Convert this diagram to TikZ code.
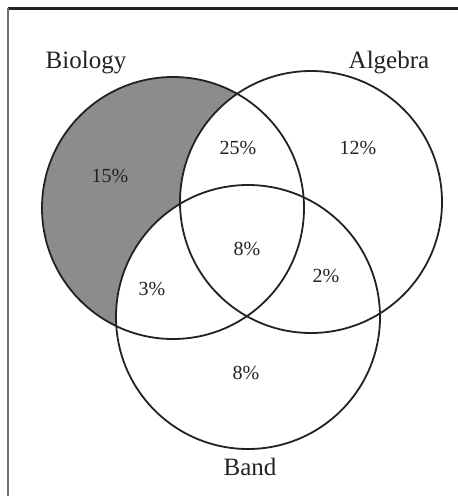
\documentclass[tikz,border=0pt]{standalone}
\usepackage{fontspec}
\setmainfont{Liberation Serif}
\definecolor{biogrey}{HTML}{8C8C8C}
\definecolor{ink}{HTML}{222222}
\definecolor{edge}{HTML}{6E6E6E}
\begin{document}
\begin{tikzpicture}[x=1pt,y=-1pt,
    setname/.style={ink,font=\fontsize{25}{30}\selectfont},
    pct/.style={ink,font=\fontsize{20}{24}\selectfont},
    ring/.style={ink,line width=1.8pt}]
    \useasboundingbox (0,0) rectangle (458,496);
    % frame
    \draw[ink,line width=3pt] (8,8) -- (458,8);
    \draw[edge,line width=2pt] (8,8) -- (8,496);
    % centres of the three sets
    \coordinate (bio) at (173,208);
    \coordinate (alg) at (311,202);
    \coordinate (band) at (248,317);
    % only-biology part shaded
    \begin{scope}
      \clip (bio) circle[radius=131pt];
      \fill[biogrey] (bio) circle[radius=131pt];
      \fill[white] (alg) circle[radius=131pt];
      \fill[white] (band) circle[radius=132pt];
    \end{scope}
    \draw[ring] (bio) circle[radius=131pt];
    \draw[ring] (alg) circle[radius=131pt];
    \draw[ring] (band) circle[radius=132pt];
    % set names
    \node[setname] (biolab) at (86,63) {Biology};
    \node[setname] (alglab) at (389,63) {Algebra};
    \node[setname] (bandlab) at (250,467) {Band};
    % shares
    \foreach \nm/\px/\py/\val in {%
      onlybio/110/176/15,
      bioalg/238/148/25,
      onlyalg/358/148/12,
      all/247/249/8,
      algband/326/276/2,
      bioband/152/289/3,
      onlyband/246/373/8}{
      \node[pct] (\nm) at (\px,\py) {\val\%};}
  \end{tikzpicture}
\end{document}
